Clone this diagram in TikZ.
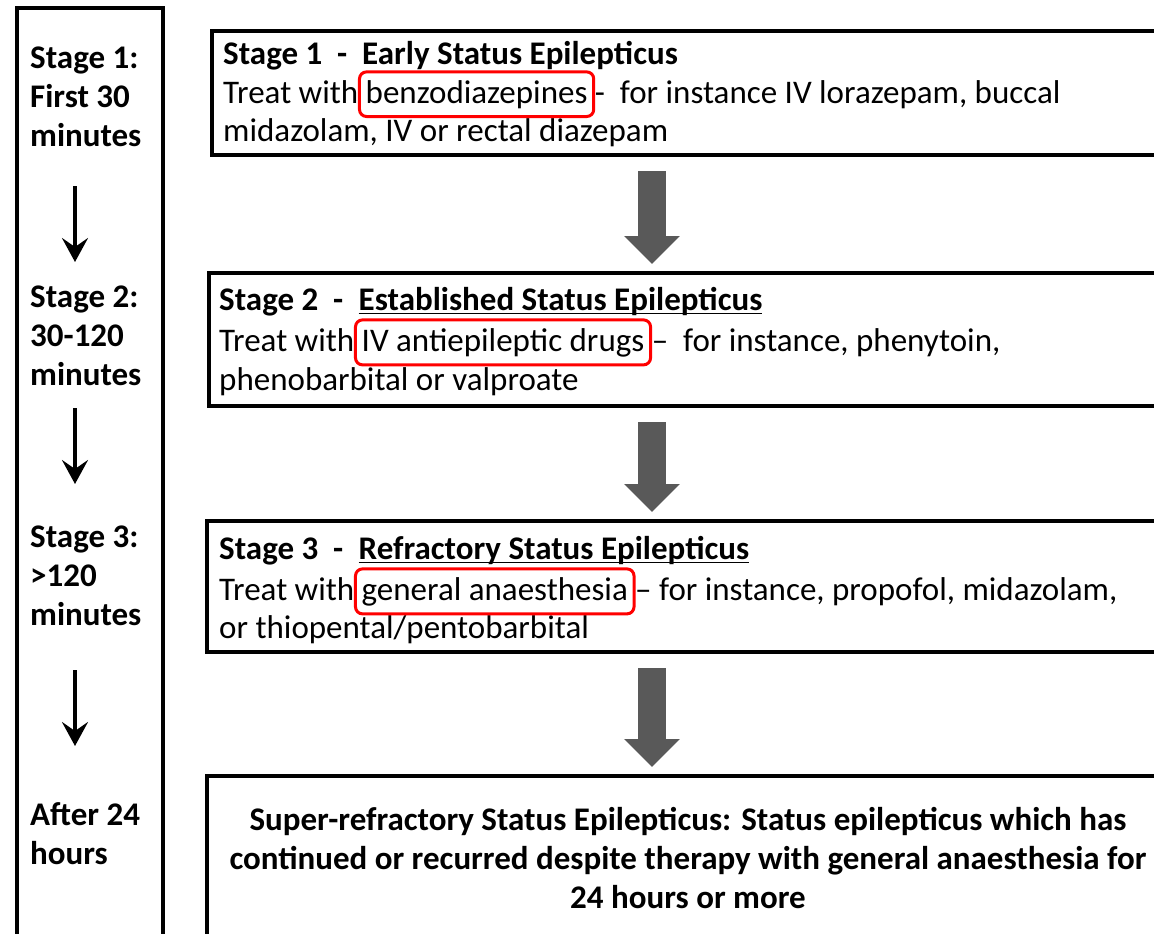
\documentclass[tikz,border=0pt]{standalone}
\usepackage{fontspec}
\setmainfont{Carlito}
\usetikzlibrary{positioning,fit,arrows.meta}
\definecolor{arrowgrey}{HTML}{595959}
\begin{document}
\begin{tikzpicture}[x=1pt,y=-1pt,
  frame/.style={draw,line width=4pt},
  stagebox/.style={frame,anchor=north west,minimum width=970pt,inner sep=0pt},
  txt/.style={anchor=base west,inner sep=0pt,font=\fontsize{33}{39}\selectfont},
  head/.style={txt,font=\fontsize{33}{39}\selectfont\bfseries},
  timelbl/.style={anchor=north west,inner sep=0pt,align=left,font=\fontsize{33}{39}\selectfont\bfseries},
  redmark/.style={draw=red,line width=3pt,rounded corners=7pt,inner xsep=6pt,inner ysep=8pt},
  bigarrow/.style={color=arrowgrey,line width=28pt,-{Triangle[length=28pt,width=54pt]},shorten <=14pt,shorten >=7pt},
  timearrow/.style={line width=3.5pt,-{Stealth[length=24pt,width=26pt,inset=9pt]}},
  uline/.style={line width=1.6pt}
]

\clip (0,0) rectangle (1154,934);

% time column
\draw[frame] (17,8) rectangle (163,960);

\node[timelbl] (l1) at (30,47) {Stage 1:\\First 30\\minutes};
\node[timelbl] (l2) at (30,286) {Stage 2:\\30-120\\minutes};
\node[timelbl] (l3) at (30,526) {Stage 3:\\>120\\minutes};
\node[timelbl] (l4) at (30,802) {After 24\\hours};

\coordinate (lx) at (75,0);
\draw[timearrow,shorten <=39pt,shorten >=24pt] (l1.south -| lx) -- (l2.north -| lx);
\draw[timearrow,shorten <=22pt,shorten >=42pt] (l2.south -| lx) -- (l3.north -| lx);
\draw[timearrow,shorten <=44pt,shorten >=56pt] (l3.south -| lx) -- (l4.north -| lx);

% stage boxes
\node[stagebox,minimum height=124pt] (s1) at (210,29) {};
\node[stagebox,minimum height=133pt] (s2) at (207,271) {};
\node[stagebox,minimum height=131pt] (s3) at (205,519) {};
\node[stagebox,minimum height=200pt] (s4) at (205,774) {};

% stage 1
\node[head] (t1) at (223,65) {Stage 1 \ -\ \ Early Status Epilepticus};
\node[txt] (t1a) at (223,103) {Treat with};
\node[txt,base right=7pt of t1a] (w1) {benzodiazepines};
\node[txt,base right=7pt of w1] (t1b) {-\ \ for instance IV lorazepam, buccal};
\node[txt] (t1c) at (223,141) {midazolam, IV or rectal diazepam};
\node[redmark,fit=(w1)] (r1) {};

% stage 2
\node[head] (t2) at (219,310) {Stage 2 \ -};
\node[head,base right=15pt of t2] (u2) {Established Status Epilepticus};
\draw[uline] ([yshift=-3.5pt]u2.base west) -- ([yshift=-3.5pt]u2.base east);
\node[txt] (t2a) at (219,351) {Treat with};
\node[txt,base right=7pt of t2a] (w2) {IV antiepileptic drugs};
\node[txt,base right=7pt of w2] (t2b) {--\ \ for instance, phenytoin,};
\node[txt] (t2c) at (219,390) {phenobarbital or valproate};
\node[redmark,fit=(w2)] (r2) {};

% stage 3
\node[head] (t3) at (219,559) {Stage 3 \ -};
\node[head,base right=15pt of t3] (u3) {Refractory Status Epilepticus};
\draw[uline] ([yshift=-3.5pt]u3.base west) -- ([yshift=-3.5pt]u3.base east);
\node[txt] (t3a) at (219,600) {Treat with};
\node[txt,base right=7pt of t3a] (w3) {general anaesthesia};
\node[txt,base right=7pt of w3] (t3b) {-- for instance, propofol, midazolam,};
\node[txt] (t3c) at (219,638) {or thiopental/pentobarbital};
\node[redmark,fit=(w3)] (r3) {};

% stage 4
\node[anchor=north,align=center,inner sep=0pt,font=\fontsize{33}{39}\selectfont\bfseries] (t4) at (688,807)
  {Super-refractory Status Epilepticus: Status epilepticus which has\\continued or recurred despite therapy with general anaesthesia for\\24 hours or more};

% grey arrows
\coordinate (ax) at (652,0);
\draw[bigarrow] (s1.south -| ax) -- (s2.north -| ax);
\draw[bigarrow] (s2.south -| ax) -- (s3.north -| ax);
\draw[bigarrow] (s3.south -| ax) -- (s4.north -| ax);

\end{tikzpicture}
\end{document}
